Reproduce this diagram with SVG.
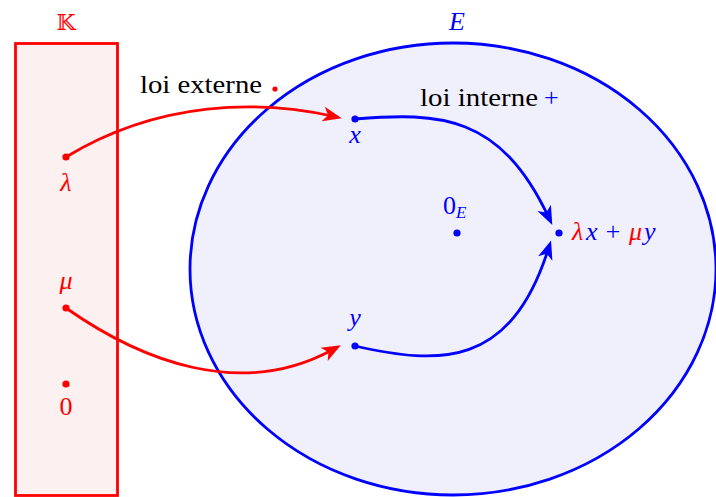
<svg xmlns="http://www.w3.org/2000/svg" width="716" height="497" viewBox="0 0 716 497">
<style>
.t{font-family:"Liberation Serif","DejaVu Serif",serif;font-size:26px}
.m{font-family:"Liberation Serif","DejaVu Serif",serif;font-style:italic;font-size:26px}
.red{fill:#ff0000}
.blue{fill:#0000ff}
.blk{fill:#000}
.ra{fill:none;stroke:#ff0000;stroke-width:2.8}
.ba{fill:none;stroke:#0000ff;stroke-width:2.8}
</style>
<defs>
<marker id="arR" markerUnits="userSpaceOnUse" orient="auto" refX="0" refY="0" markerWidth="30" markerHeight="30" viewBox="-15 -15 30 30" overflow="visible">
<path d="M10,0 L-9,-7.5 L-4,0 L-9,7.5 Z" fill="#ff0000"/>
</marker>
<marker id="arB" markerUnits="userSpaceOnUse" orient="auto" refX="0" refY="0" markerWidth="30" markerHeight="30" viewBox="-15 -15 30 30" overflow="visible">
<path d="M10,0 L-9,-7.5 L-4,0 L-9,7.5 Z" fill="#0000ff"/>
</marker>
</defs>
<g id="setK">
<rect x="15.5" y="43.5" width="102" height="452" fill="#fdf0f0" stroke="#ff0000" stroke-width="2.8"/>
<text x="66" y="30" text-anchor="middle" class="red" style="font-family:'DejaVu Serif','DejaVu Sans',serif;font-size:22px">𝕂</text>
</g>
<g id="setE">
<ellipse cx="453" cy="269" rx="263" ry="226" fill="#f0f0fc" stroke="#0000ff" stroke-width="2.8"/>
<text x="457" y="30" text-anchor="middle" class="m blue">E</text>
</g>
<g id="lambda">
<circle cx="66" cy="157" r="3.6" fill="#ff0000"/>
<text x="66" y="191" text-anchor="middle" class="m red">λ</text>
</g>
<g id="mu">
<circle cx="66" cy="308" r="3.6" fill="#ff0000"/>
<text x="66" y="289" text-anchor="middle" class="m red">μ</text>
</g>
<g id="zeroK">
<circle cx="66" cy="384" r="3.6" fill="#ff0000"/>
<text x="66" y="415" text-anchor="middle" class="t red">0</text>
</g>
<g id="x">
<circle cx="355" cy="119" r="3.6" fill="#0000ff"/>
<text x="355" y="143" text-anchor="middle" class="m blue">x</text>
</g>
<g id="y">
<circle cx="355" cy="346" r="3.6" fill="#0000ff"/>
<text x="355" y="326" text-anchor="middle" class="m blue">y</text>
</g>
<g id="zeroE">
<circle cx="457" cy="233" r="3.6" fill="#0000ff"/>
<text x="443" y="214" class="t blue">0<tspan class="m" style="font-size:17px" dy="4">E</tspan></text>
</g>
<g id="result">
<circle cx="559" cy="233" r="3.6" fill="#0000ff"/>
<text y="240" class="m blue"><tspan x="572" class="red">λ</tspan><tspan x="586">x</tspan><tspan x="604" class="t">+</tspan><tspan x="629" class="red">μ</tspan><tspan x="644">y</tspan></text>
</g>
<g id="labels">
<text x="140" y="93" class="t blk" textLength="122" lengthAdjust="spacingAndGlyphs">loi externe</text>
<circle cx="275" cy="89" r="2.6" fill="#ff0000"/>
<text x="420" y="106" class="t blk" textLength="118" lengthAdjust="spacingAndGlyphs">loi interne</text>
<text x="544" y="106" class="t blue">+</text>
</g>
<g id="connectors">
<path class="ra" d="M66,157 C160,100 260,100 332,116" marker-end="url(#arR)"/>
<path class="ra" d="M66,308 C140,360 240,400 332,350" marker-end="url(#arR)"/>
<path class="ba" d="M355,119 C440,112 500,115 548,216" marker-end="url(#arB)"/>
<path class="ba" d="M355,346 C440,365 510,368 548,250" marker-end="url(#arB)"/>
</g>
</svg>
